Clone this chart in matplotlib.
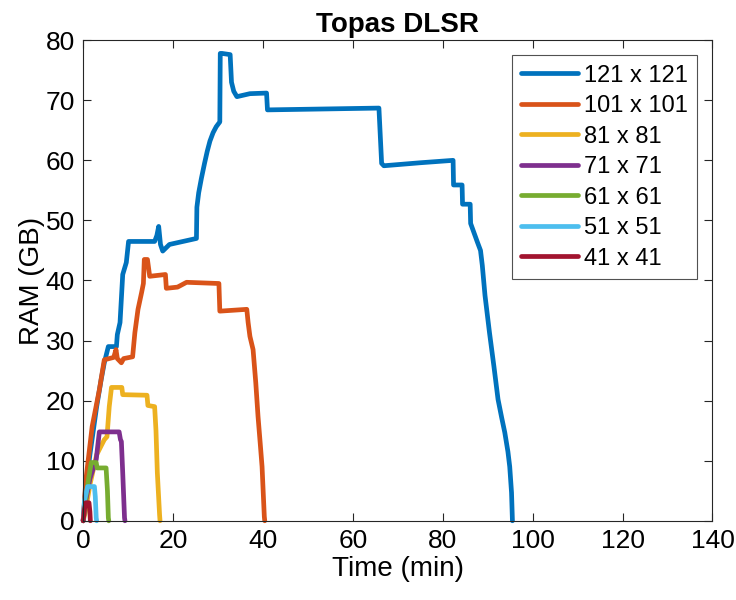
import matplotlib
matplotlib.use("Agg")
import matplotlib.pyplot as plt

# Series data (time in min, RAM in GB)
labels = ["121 x 121", "101 x 101", "81 x 81", "71 x 71", "61 x 61", "51 x 51", "41 x 41"]
colors = ["#0072BD", "#D95319", "#EDB120", "#7E2F8E", "#77AC30", "#4DBEEE", "#A2142F"]

t_121 = [0, 0.5, 1.5, 3, 4, 4.7, 5.6, 7.4, 7.6, 8.2, 8.8, 9.6, 10.1, 15.9, 16.4, 16.8,
         17.2, 17.7, 19.2, 25.2, 25.3, 25.7, 26.3, 27, 27.6, 28.2, 28.9, 29.6, 30.4, 30.5,
         30.9, 32.7, 33.0, 33.5, 34.2, 37.1, 40.8, 41.0, 65.8, 66.4, 66.9, 75, 82.3, 82.4,
         84.3, 84.4, 86.1, 86.2, 87.7, 88.4, 88.8, 89.4, 90.4, 91.4, 92.3, 93.1, 93.8, 94.5,
         94.9, 95.3, 95.5]
y_121 = [0, 5, 11, 19, 23.5, 26.3, 29, 29, 31, 33, 41, 43, 46.5, 46.5, 47.5, 49,
         46, 44.9, 46, 47, 52.2, 54.6, 57, 59.5, 61.5, 63.2, 64.6, 65.6, 66.4, 77.8,
         77.8, 77.6, 73, 71.5, 70.6, 71.1, 71.2, 68.4, 68.7, 59.5, 59.1, 59.6, 60, 55.9,
         55.9, 52.7, 52.7, 49.5, 46.4, 45, 42.5, 37.5, 31.3, 25.6, 20.2, 17.2, 14.7, 11.5,
         9, 4.7, 0]

t_101 = [0, 0.6, 2, 3.6, 4.7, 6.8, 7.3, 7.6, 8.5, 9, 11, 11.5, 12.2, 13, 13.4, 13.6,
         14.3, 14.8, 18.3, 18.5, 21, 23, 30.2, 30.4, 36.4, 36.7, 37.1, 37.8, 38.4, 38.9,
         39.4, 39.8, 40.3, 40.4]
y_101 = [0, 6.8, 15.7, 21.8, 26.8, 27.2, 28.5, 27, 26.3, 27, 27.3, 31.3, 35.2, 38, 39.5, 43.5,
         43.5, 40.7, 41, 38.7, 38.9, 39.7, 39.5, 34.9, 35.2, 33, 30.7, 28.5, 23, 17.4,
         12.8, 9, 0.7, 0]

t_81 = [0, 0.5, 1.5, 3, 4.7, 5.3, 5.8, 6.3, 8.6, 8.8, 14.2, 14.4, 15.9, 16.2, 16.5, 17, 17.1]
y_81 = [0, 1.5, 6, 11, 13.5, 14, 19, 22.2, 22.2, 21, 20.9, 19.2, 19, 15, 8, 1, 0]

t_71 = [0, 0.5, 1.5, 2.9, 3.6, 8, 8.3, 8.5, 8.8, 9.2, 9.3]
y_71 = [0, 3, 7, 10.2, 14.8, 14.8, 13.5, 13.2, 8, 0.5, 0]

t_61 = [0, 0.5, 1.2, 1.8, 2.9, 3.1, 5.1, 5.4, 5.6, 5.7]
y_61 = [0, 3.5, 7, 9.7, 9.7, 8.8, 8.8, 5, 0.5, 0]

t_51 = [0, 0.3, 1, 2.5, 2.7, 2.9, 3.0]
y_51 = [0, 3.5, 5.7, 5.7, 4, 0.5, 0]

t_41 = [0, 0.3, 0.6, 1.3, 1.5, 1.6]
y_41 = [0, 2, 3, 3, 1.5, 0]

times = [t_121, t_101, t_81, t_71, t_61, t_51, t_41]
rams = [y_121, y_101, y_81, y_71, y_61, y_51, y_41]

x_ticks = [0, 20, 40, 60, 80, 100, 120, 140]
y_ticks = [0, 10, 20, 30, 40, 50, 60, 70, 80]

plt.rcParams["font.family"] = ["Liberation Sans", "DejaVu Sans"]

fig = plt.figure(figsize=(7.36, 6.0), dpi=100)
ax = fig.add_axes([0.113, 0.132, 0.855, 0.801])

for t, y, c, lab in zip(times, rams, colors, labels):
    ax.plot(t, y, color=c, linewidth=3.4, label=lab, clip_on=False,
            solid_joinstyle="round", solid_capstyle="round")

ax.set_xlim(0, 140)
ax.set_ylim(0, 80)
ax.set_xticks(x_ticks)
ax.set_yticks(y_ticks)
ax.tick_params(direction="in", length=6, width=0.8, labelsize=19, colors="#262626",
               top=True, right=True, pad=6)
ax.tick_params(labelcolor="black")
for s in ax.spines.values():
    s.set_color("#262626")
    s.set_linewidth(0.8)

ax.set_xlabel("Time (min)", fontsize=20, labelpad=2)
ax.set_ylabel("RAM (GB)", fontsize=20, labelpad=0)
ax.set_title("Topas DLSR", fontsize=20, fontweight="bold", pad=6)

leg = ax.legend(loc="upper right", fontsize=17, handlelength=2.4, handletextpad=0.25,
                labelspacing=0.36, borderpad=0.4, borderaxespad=0, fancybox=False,
                bbox_to_anchor=(0.976, 0.969))
leg.get_frame().set_edgecolor("#262626")
leg.get_frame().set_linewidth(0.8)

fig.savefig("out.png", dpi=100)
